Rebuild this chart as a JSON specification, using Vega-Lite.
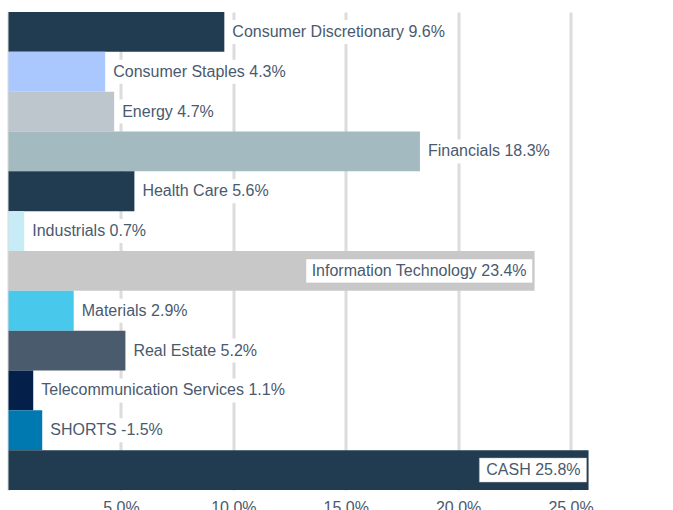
{
  "$schema": "https://vega.github.io/schema/vega-lite/v6.json",
  "width": 652,
  "height": 478,
  "autosize": {"type": "none"},
  "padding": {"left": 8.5, "top": 12, "right": 12, "bottom": 20},
  "background": "white",
  "config": {"view": {"stroke": null}, "font": "Liberation Sans"},
  "data": {"values": [
    {"sector": "Consumer Discretionary", "value": 9.6, "label": "Consumer Discretionary 9.6%", "color": "#213c50"},
    {"sector": "Consumer Staples", "value": 4.3, "label": "Consumer Staples 4.3%", "color": "#abc8fe"},
    {"sector": "Energy", "value": 4.7, "label": "Energy 4.7%", "color": "#bcc6cc"},
    {"sector": "Financials", "value": 18.3, "label": "Financials 18.3%", "color": "#a3bac0"},
    {"sector": "Health Care", "value": 5.6, "label": "Health Care 5.6%", "color": "#213c50"},
    {"sector": "Industrials", "value": 0.7, "label": "Industrials 0.7%", "color": "#c8ecf6"},
    {"sector": "Information Technology", "value": 23.4, "label": "Information Technology 23.4%", "color": "#c8c8c8"},
    {"sector": "Materials", "value": 2.9, "label": "Materials 2.9%", "color": "#48c8ea"},
    {"sector": "Real Estate", "value": 5.2, "label": "Real Estate 5.2%", "color": "#4b5b6e"},
    {"sector": "Telecommunication Services", "value": 1.1, "label": "Telecommunication Services 1.1%", "color": "#04204a"},
    {"sector": "SHORTS", "value": 1.5, "label": "SHORTS -1.5%", "color": "#0079b0"},
    {"sector": "CASH", "value": 25.8, "label": "CASH 25.8%", "color": "#213c50"}
  ]},
  "encoding": {
    "y": {"field": "sector", "type": "nominal", "sort": null, "axis": null,
          "scale": {"paddingInner": 0, "paddingOuter": 0}}
  },
  "layer": [
    {
      "mark": {"type": "bar"},
      "encoding": {
        "x": {"field": "value", "type": "quantitative",
              "scale": {"domain": [0, 29], "nice": false, "zero": true},
              "axis": {"values": [0, 5, 10, 15, 20, 25], "title": null, "domain": false, "ticks": false,
                       "labelExpr": "datum.value == 0 ? '' : format(datum.value, '.1f') + '%'",
                       "labelFontSize": 16, "labelColor": "#4a5a6e", "labelPadding": 9,
                       "gridColor": "#dcdcdc", "gridWidth": 3, "labelFont": "Liberation Sans"}},
        "color": {"field": "color", "type": "nominal", "scale": null}
      }
    },
    {
      "transform": [{"filter": "datum.value <= 20"}],
      "mark": {"type": "bar", "height": 24, "fill": "white",
               "xOffset": 1,
               "x2Offset": {"expr": "14 + 16 * (0.54 * length(datum.label) - 0.27 * length(replace(datum.label, regexp('[^iltfrjI .-]', 'g'), '')) + 0.18 * length(replace(datum.label, regexp('[^A-HJ-Zmw%]', 'g'), '')))"}},
      "encoding": {
        "x": {"field": "value", "type": "quantitative"},
        "x2": {"field": "value"}
      }
    },
    {
      "transform": [{"filter": "datum.value > 20"}],
      "mark": {"type": "bar", "height": 24, "fill": "white", "stroke": "#c0c0c0", "strokeWidth": 0.5,
               "xOffset": {"expr": "-17 - 16 * (0.54 * length(datum.label) - 0.27 * length(replace(datum.label, regexp('[^iltfrjI .-]', 'g'), '')) + 0.18 * length(replace(datum.label, regexp('[^A-HJ-Zmw%]', 'g'), '')))"},
               "x2Offset": -2},
      "encoding": {
        "x": {"field": "value", "type": "quantitative"},
        "x2": {"field": "value"}
      }
    },
    {
      "transform": [{"filter": "datum.value <= 20"}],
      "mark": {"type": "text", "align": "left", "baseline": "middle", "dx": 8, "fontSize": 16, "color": "#4a5a6e"},
      "encoding": {
        "x": {"field": "value", "type": "quantitative"},
        "text": {"field": "label"}
      }
    },
    {
      "transform": [{"filter": "datum.value > 20"}],
      "mark": {"type": "text", "align": "right", "baseline": "middle", "dx": -8, "fontSize": 16, "color": "#4a5a6e"},
      "encoding": {
        "x": {"field": "value", "type": "quantitative"},
        "text": {"field": "label"}
      }
    }
  ]
}
